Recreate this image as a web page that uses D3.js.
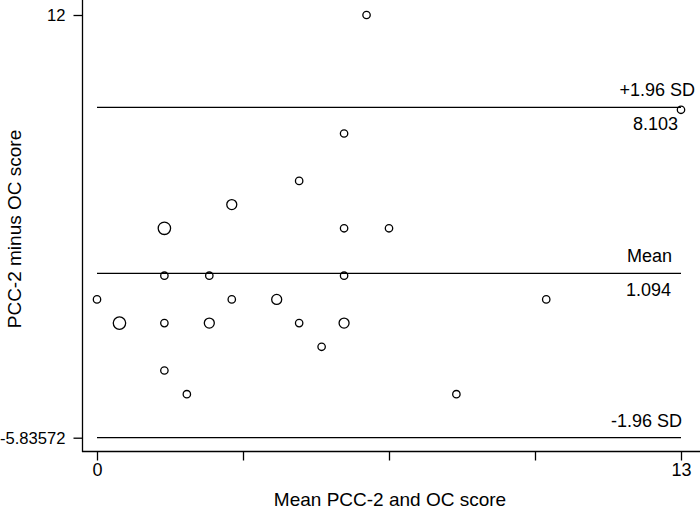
<!DOCTYPE html>
<html><head><meta charset="utf-8">
<script src="https://cdn.jsdelivr.net/npm/d3@7"></script>
<style>body{margin:0;background:#fff}svg{display:block}text{font-family:"Liberation Sans",Arial,sans-serif;fill:#000}</style>
</head><body><svg id="c" width="700" height="510"></svg>
<script>
// Data: mean score (x), difference (y), frequency weight (n)
const meanScore = [6, 13, 5.5, 4.5, 3, 1.5, 5.5, 6.5, 1.5, 2.5, 5.5, 0, 3, 4, 10, 0.5, 1.5, 2.5, 4.5, 5.5, 5, 1.5, 2, 8];
const diffScore = [12, 8, 7, 5, 4, 3, 3, 3, 1, 1, 1, 0, 0, 0, 0, -1, -1, -1, -1, -1, -2, -3, -4, -4];
const weight    = [1, 1, 1, 1, 2, 3, 1, 1, 1, 1, 1, 1, 1, 2, 1, 3, 1, 2, 1, 2, 1, 1, 1, 1];
const refValues = [8.103, 1.094, -5.83572];
const refLabels = ["+1.96 SD", "Mean", "-1.96 SD"];
const refValueLabels = ["8.103", "1.094", ""];
const xTicks = [0, 3.25, 6.5, 9.75, 13];
const xTickLabels = ["0", "", "", "", "13"];
const yTicks = [12, -5.83572];
const yTickLabels = ["12", "-5.83572"];

const svg = d3.select("#c");
const x = d3.scaleLinear().domain([0, 13]).range([97, 681]);
const y = d3.scaleLinear().domain([-5.83572, 12]).range([437.7, 15]);
const r = d3.scaleOrdinal().domain([1, 2, 3]).range([3.7, 5, 6.2]);

// axes
const xAxis = d3.axisBottom(x).tickValues(xTicks).tickFormat((d, i) => xTickLabels[i]).tickSize(9).tickPadding(3).tickSizeOuter(0);
const gx = svg.append("g").attr("transform", "translate(0,451.5)").call(xAxis);
gx.select(".domain").remove();
gx.append("line").attr("x1", 82).attr("x2", 700).attr("stroke", "#000").attr("stroke-width", 1.3);
gx.selectAll(".tick line").attr("stroke", "#000").attr("stroke-width", 1.3);
gx.selectAll(".tick text").attr("font-size", 18).style("font-family", "Liberation Sans, Arial, sans-serif");

const yAxis = d3.axisLeft(y).tickValues(yTicks).tickFormat((d, i) => yTickLabels[i]).tickSize(9).tickPadding(8);
const gy = svg.append("g").attr("transform", "translate(82.5,0)").call(yAxis);
gy.select(".domain").remove();
gy.append("line").attr("y1", 0).attr("y2", 452).attr("stroke", "#000").attr("stroke-width", 1.3);
gy.selectAll(".tick line").attr("stroke", "#000").attr("stroke-width", 1.3);
gy.selectAll(".tick text").attr("font-size", 16.6).style("font-family", "Liberation Sans, Arial, sans-serif");

// reference lines
svg.selectAll("line.ref").data(refValues).enter().append("line")
  .attr("class", "ref")
  .attr("x1", x(0)).attr("x2", x(13))
  .attr("y1", d => y(d)).attr("y2", d => y(d))
  .attr("stroke", "#000").attr("stroke-width", 1.3);

const labelRight = [695, 672, 682];
const valueRight = [678, 671, 0];
svg.selectAll("text.reflab").data(refValues).enter().append("text")
  .attr("class", "reflab").attr("font-size", 18).attr("text-anchor", "end")
  .attr("x", (d, i) => labelRight[i]).attr("y", d => y(d) - 11)
  .text((d, i) => refLabels[i]);
svg.selectAll("text.refval").data(refValues.filter((d, i) => refValueLabels[i])).enter().append("text")
  .attr("class", "refval").attr("font-size", 18).attr("text-anchor", "end")
  .attr("x", (d, i) => valueRight[i]).attr("y", d => y(d) + 23)
  .text((d, i) => refValueLabels[i]);

// points
svg.selectAll("circle.pt").data(meanScore).enter().append("circle")
  .attr("class", "pt")
  .attr("cx", d => x(d)).attr("cy", (d, i) => y(diffScore[i]))
  .attr("r", (d, i) => r(weight[i]))
  .attr("fill", "none").attr("stroke", "#000").attr("stroke-width", 1.3);

// axis titles
svg.append("text").attr("font-size", 19).attr("text-anchor", "middle")
  .attr("x", 390).attr("y", 506).text("Mean PCC-2 and OC score");
svg.append("text").attr("font-size", 19).attr("text-anchor", "middle")
  .attr("transform", "translate(21,229) rotate(-90)").text("PCC-2 minus OC score");
</script></body></html>
